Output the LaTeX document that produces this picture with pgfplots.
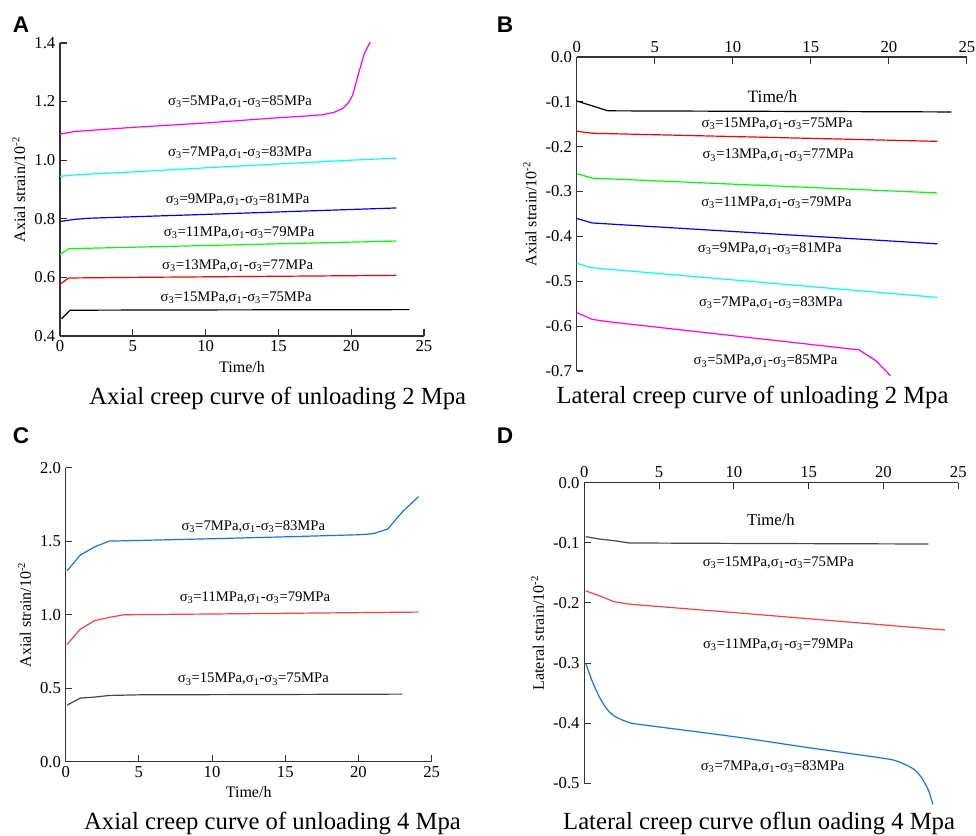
\documentclass[border=0pt]{standalone}
\usepackage{pgfplots}
\pgfplotsset{compat=1.18}
\usepackage{fontspec}
\setmainfont{Liberation Serif}
\newfontfamily\panelfont{Liberation Sans}
\definecolor{cblue}{RGB}{25,115,230}
\definecolor{cred}{RGB}{255,64,64}
\definecolor{cgray}{RGB}{70,70,70}
\definecolor{pmag}{RGB}{255,0,255}
\definecolor{pcyan}{RGB}{0,255,255}
\definecolor{pblue}{RGB}{0,0,255}
\definecolor{pgreen}{RGB}{0,255,0}
\definecolor{pred}{RGB}{255,0,0}
\newcommand{\lab}[2]{σ\textsubscript{3}=#1MPa,σ\textsubscript{1}-σ\textsubscript{3}=#2MPa}
\tikzset{lbl/.style={font=\rmfamily\fontsize{11}{11}\selectfont}}
\pgfplotsset{
  every axis/.append style={
    scale only axis,
    axis line style={-, line width=0.9pt, black!80},
    tick style={line width=0.8pt, black!80},
    tick align=inside,
    major tick length=5pt,
    /pgf/number format/assume math mode=true,
    tick label style={font=\rmfamily\fontsize{12.5}{12.5}\selectfont},
    label style={font=\rmfamily\fontsize{12}{12}\selectfont},
    every axis plot/.append style={line width=0.9pt},
    xmin=0, xmax=25, xtick={0,5,...,25},
    clip=false,
  },
}
\begin{document}
\begin{tikzpicture}
\path[use as bounding box] (0pt,0pt) rectangle (732pt,627pt);
% ---------------- A ----------------
\begin{axis}[at={(45pt,375pt)}, anchor=south west, width=273pt, height=219.75pt,
  axis x line*=bottom, axis y line*=left,
  ymin=0.4, ymax=1.4, ytick={0.4,0.6,...,1.4},
  yticklabel style={/pgf/number format/.cd, fixed, fixed zerofill, precision=1},
  xlabel={Time/h}, ylabel={Axial strain/10\textsuperscript{-2}}]
\addplot[pmag] coordinates {(0,1.089)(1,1.098)(5,1.112)(10,1.127)(15,1.145)(17,1.151)(18,1.155)(18.8,1.163)(19.4,1.176)(19.8,1.195)(20.1,1.222)(20.5,1.295)(20.9,1.364)(21.3,1.403)};
\addplot[pcyan] coordinates {(0,0.945)(1,0.950)(5,0.960)(10,0.974)(15,0.987)(20,1.000)(23.1,1.007)};
\addplot[pblue] coordinates {(0,0.791)(1,0.798)(2,0.802)(10,0.815)(23.1,0.837)};
\addplot[pgreen] coordinates {(0,0.678)(0.6,0.698)(5,0.703)(23.1,0.724)};
\addplot[pred] coordinates {(0,0.577)(0.6,0.598)(5,0.600)(23.1,0.607)};
\addplot[black] coordinates {(0.1,0.459)(0.7,0.488)(10,0.489)(24,0.490)};
\node[lbl] at (axis cs:12.36,1.199) {\lab{5}{85}};
\node[lbl] at (axis cs:12.36,1.026) {\lab{7}{83}};
\node[lbl] at (axis cs:12.2,0.865) {\lab{9}{81}};
\node[lbl] at (axis cs:12.3,0.753) {\lab{11}{79}};
\node[lbl] at (axis cs:12.2,0.639) {\lab{13}{77}};
\node[lbl] at (axis cs:12.1,0.531) {\lab{15}{75}};
\end{axis}
% ---------------- B ----------------
\begin{axis}[at={(432.5pt,348.75pt)}, anchor=south west, width=292.7pt, height=235.5pt,
  axis x line*=top, axis y line*=left,
  ymin=-0.7, ymax=0, ytick={-0.7,-0.6,...,0},
  yticklabel style={/pgf/number format/.cd, fixed, fixed zerofill, precision=1},
  ylabel={Axial strain/10\textsuperscript{-2}}]
\addplot[black] coordinates {(0,-0.098)(2,-0.120)(24,-0.1225)};
\addplot[pred] coordinates {(0,-0.1655)(1,-0.170)(23.1,-0.188)};
\addplot[pgreen] coordinates {(0,-0.260)(1,-0.270)(23.1,-0.303)};
\addplot[pblue] coordinates {(0,-0.360)(1,-0.370)(23.1,-0.4165)};
\addplot[pcyan] coordinates {(0,-0.460)(1,-0.470)(23.1,-0.536)};
\addplot[pmag] coordinates {(0,-0.5695)(1,-0.585)(2,-0.590)(18.1,-0.653)(19.2,-0.678)(20.1,-0.7105)};
\node[font=\rmfamily\fontsize{13}{13}\selectfont] at (axis cs:12.54,-0.0876) {Time/h};
\node[lbl] at (axis cs:12.84,-0.1485) {\lab{15}{75}};
\node[lbl] at (axis cs:12.9,-0.219) {\lab{13}{77}};
\node[lbl] at (axis cs:12.8,-0.324) {\lab{11}{79}};
\node[lbl] at (axis cs:12.37,-0.427) {\lab{9}{81}};
\node[lbl] at (axis cs:12.44,-0.547) {\lab{7}{83}};
\node[lbl] at (axis cs:12.1,-0.678) {\lab{5}{85}};
\end{axis}
% ---------------- C ----------------
\begin{axis}[at={(49.25pt,55.7pt)}, anchor=south west, width=274.5pt, height=220.5pt,
  axis x line*=bottom, axis y line*=left,
  ymin=0, ymax=2, ytick={0,0.5,...,2},
  yticklabel style={/pgf/number format/.cd, fixed, fixed zerofill, precision=1},
  xlabel={Time/h}, ylabel={Axial strain/10\textsuperscript{-2}}]
\addplot[cblue] coordinates {(0.1,1.299)(1,1.406)(2,1.463)(3,1.501)(4,1.503)(10,1.517)(15,1.530)(20,1.544)(21,1.551)(22,1.583)(23,1.70)(24.1,1.803)};
\addplot[cred] coordinates {(0.1,0.798)(1,0.902)(2,0.961)(3,0.982)(4,1.000)(10,1.005)(24.1,1.018)};
\addplot[cgray] coordinates {(0.1,0.385)(1,0.433)(2,0.440)(3,0.451)(5,0.455)(23,0.460)};
\node[lbl] at (axis cs:12.82,1.599) {\lab{7}{83}};
\node[lbl] at (axis cs:12.93,1.116) {\lab{11}{79}};
\node[lbl] at (axis cs:12.82,0.562) {\lab{15}{75}};
\end{axis}
% ---------------- D ----------------
\begin{axis}[at={(438.2pt,39.5pt)}, anchor=south west, width=280.5pt, height=225.5pt,
  axis x line*=top, axis y line*=left,
  ymin=-0.5, ymax=0, ytick={-0.5,-0.4,...,0},
  yticklabel style={/pgf/number format/.cd, fixed, fixed zerofill, precision=1},
  ylabel={Lateral strain/10\textsuperscript{-2}}]
\addplot[cgray] coordinates {(0.1,-0.0898)(1,-0.0937)(2,-0.0965)(3,-0.1003)(10,-0.101)(23,-0.102)};
\addplot[cred] coordinates {(0.1,-0.180)(1,-0.188)(2,-0.198)(3,-0.202)(10,-0.216)(24.1,-0.245)};
\addplot[cblue, smooth] coordinates {(0.1,-0.3004)(0.5,-0.328)(1,-0.356)(1.5,-0.376)(2,-0.388)(3,-0.399)(4,-0.403)(10,-0.4224)(15,-0.4407)(20,-0.4584)(21,-0.464)(22,-0.476)(22.5,-0.489)(23,-0.511)(23.3,-0.535)};
\node[font=\rmfamily\fontsize{12.5}{12.5}\selectfont] at (axis cs:12.48,-0.062) {Time/h};
\node[lbl] at (axis cs:12.97,-0.133) {\lab{15}{75}};
\node[lbl] at (axis cs:12.97,-0.270) {\lab{11}{79}};
\node[lbl] at (axis cs:12.59,-0.472) {\lab{7}{83}};
\end{axis}
% ---------------- captions and panel letters ----------------
\node[anchor=base, font=\rmfamily\fontsize{18.5}{18.5}\selectfont] at (208.3pt,323.25pt) {Axial creep curve of unloading 2 Mpa};
\node[anchor=base, font=\rmfamily\fontsize{18.5}{18.5}\selectfont] at (564.4pt,324pt) {Lateral creep curve of unloading 2 Mpa};
\node[anchor=base, font=\rmfamily\fontsize{18.5}{18.5}\selectfont] at (204.4pt,4.5pt) {Axial creep curve of unloading 4 Mpa};
\node[anchor=base, font=\rmfamily\fontsize{18.5}{18.5}\selectfont] at (569.3pt,4.5pt) {Lateral creep curve oflun oading 4 Mpa};
\node[anchor=base west, inner sep=0pt, font=\panelfont\bfseries\fontsize{17}{17}\selectfont] at (9.5pt,602.25pt) {A};
\node[anchor=base west, inner sep=0pt, font=\panelfont\bfseries\fontsize{17}{17}\selectfont] at (372.5pt,602.25pt) {B};
\node[anchor=base west, inner sep=0pt, font=\panelfont\bfseries\fontsize{17}{17}\selectfont] at (9.5pt,294pt) {C};
\node[anchor=base west, inner sep=0pt, font=\panelfont\bfseries\fontsize{17}{17}\selectfont] at (372.5pt,294pt) {D};
\end{tikzpicture}
\end{document}
